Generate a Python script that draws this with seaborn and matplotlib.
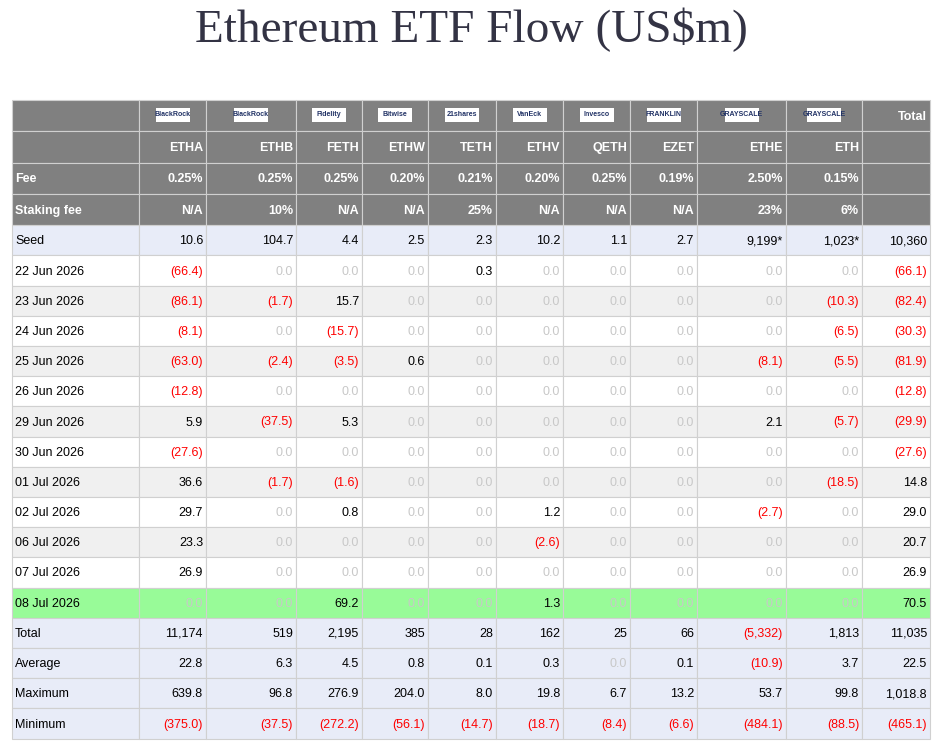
import matplotlib
matplotlib.use("Agg")
import matplotlib.pyplot as plt
from matplotlib.patches import Rectangle
import seaborn as sns

sns.set_theme(style="white")
plt.rcParams['font.family'] = ['Liberation Sans', 'DejaVu Sans']

issuers = ["BlackRock", "BlackRock", "Fidelity", "Bitwise", "21shares", "VanEck",
           "Invesco", "FRANKLIN", "GRAYSCALE", "GRAYSCALE"]
tickers = ["ETHA", "ETHB", "FETH", "ETHW", "TETH", "ETHV", "QETH", "EZET", "ETHE", "ETH"]
fees = ["0.25%", "0.25%", "0.25%", "0.20%", "0.21%", "0.20%", "0.25%", "0.19%", "2.50%", "0.15%"]
staking = ["N/A", "10%", "N/A", "N/A", "25%", "N/A", "N/A", "N/A", "23%", "6%"]
seed = ["10.6", "104.7", "4.4", "2.5", "2.3", "10.2", "1.1", "2.7", "9,199*", "1,023*", "10,360"]

dates = ["22 Jun 2026", "23 Jun 2026", "24 Jun 2026", "25 Jun 2026", "26 Jun 2026",
         "29 Jun 2026", "30 Jun 2026", "01 Jul 2026", "02 Jul 2026", "06 Jul 2026",
         "07 Jul 2026", "08 Jul 2026"]
flows = [
    [-66.4, 0, 0, 0, 0.3, 0, 0, 0, 0, 0, -66.1],
    [-86.1, -1.7, 15.7, 0, 0, 0, 0, 0, 0, -10.3, -82.4],
    [-8.1, 0, -15.7, 0, 0, 0, 0, 0, 0, -6.5, -30.3],
    [-63.0, -2.4, -3.5, 0.6, 0, 0, 0, 0, -8.1, -5.5, -81.9],
    [-12.8, 0, 0, 0, 0, 0, 0, 0, 0, 0, -12.8],
    [5.9, -37.5, 5.3, 0, 0, 0, 0, 0, 2.1, -5.7, -29.9],
    [-27.6, 0, 0, 0, 0, 0, 0, 0, 0, 0, -27.6],
    [36.6, -1.7, -1.6, 0, 0, 0, 0, 0, 0, -18.5, 14.8],
    [29.7, 0, 0.8, 0, 0, 1.2, 0, 0, -2.7, 0, 29.0],
    [23.3, 0, 0, 0, 0, -2.6, 0, 0, 0, 0, 20.7],
    [26.9, 0, 0, 0, 0, 0, 0, 0, 0, 0, 26.9],
    [0, 0, 69.2, 0, 0, 1.3, 0, 0, 0, 0, 70.5],
]
totals = [11174, 519, 2195, 385, 28, 162, 25, 66, -5332, 1813, 11035]
averages = [22.8, 6.3, 4.5, 0.8, 0.1, 0.3, 0.0, 0.1, -10.9, 3.7, 22.5]
maximums = [639.8, 96.8, 276.9, 204.0, 8.0, 19.8, 6.7, 13.2, 53.7, 99.8, 1018.8]
minimums = [-375.0, -37.5, -272.2, -56.1, -14.7, -18.7, -8.4, -6.6, -484.1, -88.5, -465.1]

col_edges = [12, 139, 206, 296, 362, 428, 496, 563, 630, 697, 786, 862, 930]
top, head_h, row_h = 100, 31.3, 30.2

fig = plt.figure(figsize=(9.42, 7.44), dpi=100)
ax = fig.add_axes([0, 0, 1, 1])
ax.set_xlim(0, 942)
ax.set_ylim(744, 0)
ax.axis("off")

ax.text(471, 30, "Ethereum ETF Flow (US$m)", ha="center", va="center",
        fontsize=34, color="#333344", family=["Liberation Serif"])

GREY = "#808080"
LINE = "#d0d0d0"


def cell(ci, y, h, fc, txt="", color="black", bold=False, ha="right", size=9):
    x0, x1 = col_edges[ci], col_edges[ci + 1]
    ax.add_patch(Rectangle((x0, y), x1 - x0, h, fc=fc, ec=LINE, lw=0.8))
    if txt:
        tx = x0 + 3 if ha == "left" else x1 - 3
        ax.text(tx, y + h / 2 + 1, txt, ha=ha, va="center", color=color,
                fontsize=size, fontweight="bold" if bold else "normal")


def fmt(v, dec=1):
    s = f"{abs(v):,.{dec}f}"
    return f"({s})" if v < 0 else s


# header rows
y = top
for r in range(4):
    for ci in range(12):
        txt = ""
        if ci == 0:
            txt = ["", "", "Fee", "Staking fee"][r]
        elif ci <= 10:
            txt = ["", tickers, fees, staking][r][ci - 1] if r else ""
        elif r == 0:
            txt = "Total"
        cell(ci, y, head_h, GREY, txt, "white", True, "left" if ci == 0 else "right")
    if r == 0:
        for ci in range(1, 11):
            cx = (col_edges[ci] + col_edges[ci + 1]) / 2
            ax.add_patch(Rectangle((cx - 17, y + 8), 34, 14, fc="white", ec="none"))
            ax.text(cx, y + 15, issuers[ci - 1], ha="center", va="center",
                    fontsize=5, fontweight="bold", color="#223366")
    y += head_h

# seed
BLUE = "#e8ecf8"
cell(0, y, row_h, BLUE, "Seed", ha="left")
for ci, s in enumerate(seed):
    cell(ci + 1, y, row_h, BLUE, s)
y += row_h

# daily flows
for i, (d, vals) in enumerate(zip(dates, flows)):
    fc = "#f0f0f0" if i % 2 else "white"
    if i == len(dates) - 1:
        fc = "#98fb98"
    cell(0, y, row_h, fc, d, ha="left")
    for ci, v in enumerate(vals):
        col = "#c8c8c8" if v == 0 else ("red" if v < 0 else "black")
        cell(ci + 1, y, row_h, fc, fmt(v), col)
    y += row_h

# summary rows
for name, vals, dec in [("Total", totals, 0), ("Average", averages, 1),
                        ("Maximum", maximums, 1), ("Minimum", minimums, 1)]:
    cell(0, y, row_h, BLUE, name, ha="left")
    for ci, v in enumerate(vals):
        col = "#c8c8c8" if v == 0 else ("red" if v < 0 else "black")
        cell(ci + 1, y, row_h, BLUE, fmt(v, dec), col)
    y += row_h

fig.savefig("out.png", dpi=100, facecolor="white")
